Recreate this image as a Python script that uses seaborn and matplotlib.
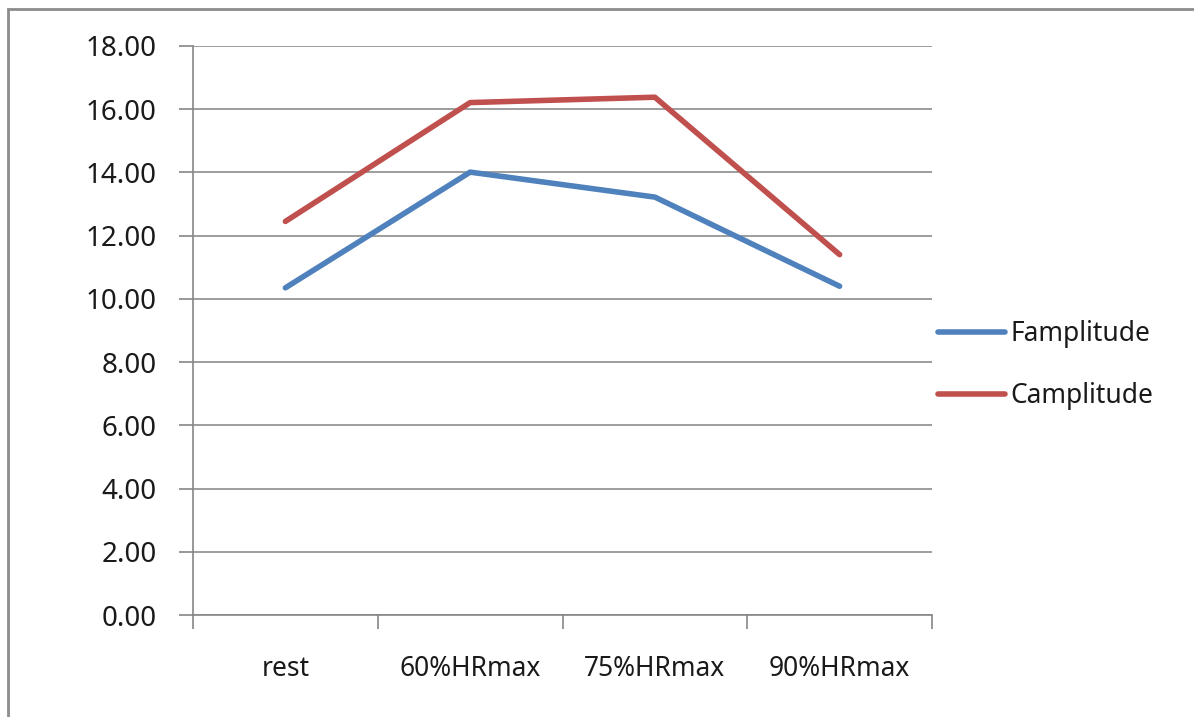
import numpy as np
import pandas as pd
import matplotlib
matplotlib.use("Agg")
import matplotlib.pyplot as plt
import seaborn as sns
from matplotlib.patches import Rectangle
from matplotlib.ticker import FixedLocator, NullFormatter, FuncFormatter

# data
categories = ["rest", "60%HRmax", "75%HRmax", "90%HRmax"]
famplitude = [10.35, 14.01, 13.22, 10.40]
camplitude = [12.45, 16.21, 16.38, 11.40]
series_names = ["Famplitude", "Camplitude"]
series_colors = ["#4F81BD", "#C0504D"]
y_ticks = [0, 2, 4, 6, 8, 10, 12, 14, 16, 18]

df = pd.DataFrame({
    "stage": categories * 2,
    "value": famplitude + camplitude,
    "series": [series_names[0]] * 4 + [series_names[1]] * 4,
})

sns.set_style("white")
plt.rcParams["font.family"] = ["Noto Sans", "DejaVu Sans"]

fig = plt.figure(figsize=(11.94, 7.17), dpi=100)
ax = fig.add_axes([193 / 1194, 1 - 615 / 717, (932 - 193) / 1194, (615 - 46) / 717])

sns.lineplot(data=df, x="stage", y="value", hue="series", palette=series_colors,
             linewidth=4, ax=ax, legend=False, sort=False)

ax.set_xlim(-0.5, len(categories) - 0.5)
ax.set_ylim(0, 18)
ax.set_xlabel("")
ax.set_ylabel("")

# category boundaries as major ticks, labels centred as minor ticks
ax.xaxis.set_major_locator(FixedLocator(np.arange(-0.5, len(categories), 1.0)))
ax.xaxis.set_major_formatter(NullFormatter())
ax.xaxis.set_minor_locator(FixedLocator(np.arange(len(categories))))
ax.set_xticklabels(categories, minor=True)
ax.tick_params(axis="x", which="major", bottom=True, length=10, width=1.2, color="#868686",
               direction="out")
ax.tick_params(axis="x", which="minor", bottom=True, length=0, pad=29, labelsize=19,
               labelcolor="#1a1a1a")

ax.set_yticks(y_ticks)
ax.yaxis.set_major_formatter(FuncFormatter(lambda v, p: f"{v:.2f}"))
ax.tick_params(axis="y", left=True, length=10, width=1.2, color="#868686", direction="out", pad=16,
               labelsize=20, labelcolor="#1a1a1a")

ax.grid(axis="y", color="#8c8c8c", linewidth=1.2)
ax.set_axisbelow(True)
for side in ["top", "right"]:
    ax.spines[side].set_visible(False)
for side in ["left", "bottom"]:
    ax.spines[side].set_color("#868686")
    ax.spines[side].set_linewidth(1.2)

handles = [plt.Line2D([], [], color=c, linewidth=4, solid_capstyle="round") for c in series_colors]
fig.legend(handles, series_names, loc="center left", bbox_to_anchor=(914 / 1194, 1 - 365 / 717),
           frameon=False, fontsize=19, handlelength=2.55, handletextpad=0.2, labelspacing=1.3,
           labelcolor="#1a1a1a")

# outer chart border
fig.patches.append(Rectangle((8 / 1194, -0.05), 1.1, 1.05 - 9 / 717, transform=fig.transFigure,
                             fill=False, edgecolor="#8c8c8c", linewidth=2, figure=fig))

fig.savefig("out.png", dpi=100)
